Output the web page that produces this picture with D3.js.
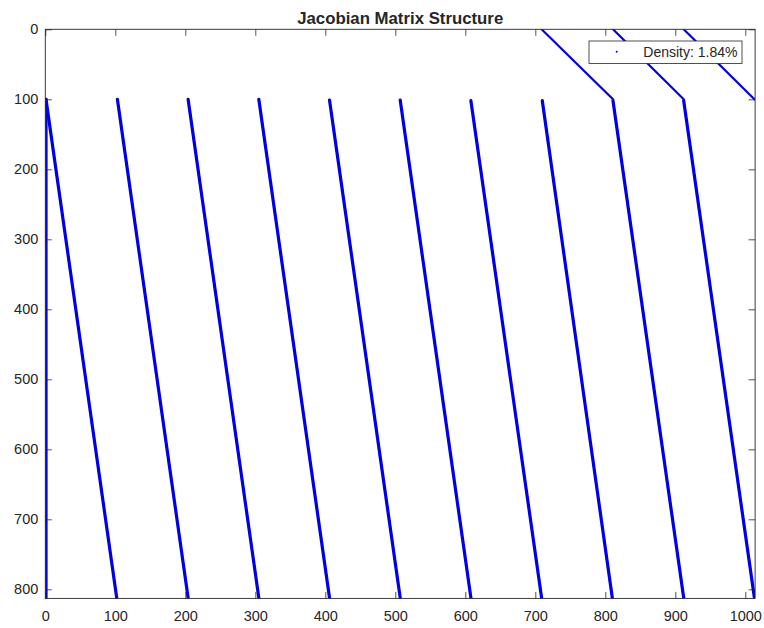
<!DOCTYPE html>
<html>
<head>
<meta charset="utf-8">
<script src="https://cdn.jsdelivr.net/npm/d3@7"></script>
<style>
  html, body { margin: 0; padding: 0; background: #fff; }
  svg { display: block; }
  text { font-family: Arial, "Liberation Sans", Helvetica, sans-serif; fill: #262626; }
</style>
</head>
<body>
<svg id="chart" width="764" height="628"></svg>
<script>
// Sparsity pattern of the Jacobian: each band of nonzeros runs from (startCol, startRow) to (endCol, endRow)
const nRows = 812;
const nCols = 1013;
const segStartCol = [709, 811, 912,   1,   1, 103, 204, 305, 406, 507, 608, 710, 811, 912];
const segStartRow = [  0,   0,   0, 100, 100, 100, 100, 100, 101, 101, 102, 102, 102, 102];
const segEndCol   = [811, 912, 1013,  1, 102, 204, 305, 406, 507, 608, 709, 810, 912, 1013];
const segEndRow   = [100, 100, 100, 812, 812, 812, 812, 812, 812, 812, 812, 812, 812, 812];
const xTicks = [0, 100, 200, 300, 400, 500, 600, 700, 800, 900, 1000];
const yTicks = [0, 100, 200, 300, 400, 500, 600, 700, 800];
const titleText = "Jacobian Matrix Structure";
const legendText = "Density: 1.84%";

const svg = d3.select("#chart");
const plotLeft = 45.3, plotRight = 755.1, plotTop = 29.3, plotBottom = 598.4;

const x = d3.scaleLinear().domain([0, nCols + 1]).range([plotLeft, plotRight]);
const y = d3.scaleLinear().domain([0, nRows + 1]).range([plotTop, plotBottom]);

const axisColor = "#262626";
const tickLen = 6.5;
const markColor = "#0000e0";

// nonzero bands
const segs = segStartCol.map((c, i) => ({
  c0: c, r0: segStartRow[i], c1: segEndCol[i], r1: segEndRow[i]
}));
const plot = svg.append("g");
plot.append("defs").append("clipPath").attr("id", "clip")
  .append("rect").attr("x", plotLeft).attr("y", plotTop)
  .attr("width", plotRight - plotLeft).attr("height", plotBottom - plotTop);
plot.append("g").attr("clip-path", "url(#clip)")
  .selectAll("line").data(segs).join("line")
  .attr("x1", d => x(d.c0)).attr("y1", d => y(d.r0))
  .attr("x2", d => x(d.c1)).attr("y2", d => y(d.r1))
  .attr("stroke", markColor)
  .attr("stroke-width", d => d.r0 === 0 ? 2.2 : 3.2)
  .attr("stroke-linecap", "round");

// axes box with ticks on all four sides
const axes = svg.append("g");
axes.append("g").attr("transform", `translate(0,${plotBottom})`)
  .call(d3.axisBottom(x).tickValues(xTicks).tickSize(-tickLen).tickPadding(12).tickFormat(d3.format("d")));
axes.append("g").attr("transform", `translate(0,${plotTop})`)
  .call(d3.axisTop(x).tickValues(xTicks).tickSize(-tickLen).tickFormat(""));
axes.append("g").attr("transform", `translate(${plotLeft},0)`)
  .call(d3.axisLeft(y).tickValues(yTicks).tickSize(-tickLen).tickPadding(7).tickFormat(d3.format("d")));
axes.append("g").attr("transform", `translate(${plotRight},0)`)
  .call(d3.axisRight(y).tickValues(yTicks).tickSize(-tickLen).tickFormat(""));

axes.selectAll(".domain").remove();
axes.selectAll(".tick line").attr("stroke", axisColor).attr("stroke-width", 0.8);
axes.selectAll(".tick text")
  .attr("font-size", "14.5px")
  .attr("font-family", "Arial, 'Liberation Sans', Helvetica, sans-serif")
  .attr("fill", axisColor);

axes.append("rect")
  .attr("x", plotLeft).attr("y", plotTop)
  .attr("width", plotRight - plotLeft).attr("height", plotBottom - plotTop)
  .attr("fill", "none").attr("stroke", axisColor).attr("stroke-width", 0.9);

// title
svg.append("text")
  .attr("x", (plotLeft + plotRight) / 2).attr("y", 23.5)
  .attr("text-anchor", "middle")
  .attr("font-size", "16.8px").attr("font-weight", "bold")
  .attr("fill", "#000")
  .text(titleText);

// legend
const lg = svg.append("g");
lg.append("rect")
  .attr("x", 589).attr("y", 41)
  .attr("width", 153).attr("height", 22.5)
  .attr("fill", "#fff").attr("stroke", axisColor).attr("stroke-width", 0.8);
lg.append("circle")
  .attr("cx", 616.7).attr("cy", 51.8).attr("r", 1)
  .attr("fill", markColor);
lg.append("text")
  .attr("x", 737.5).attr("y", 57)
  .attr("text-anchor", "end")
  .attr("font-size", "14px")
  .attr("fill", "#000")
  .text(legendText);
</script>
</body>
</html>
